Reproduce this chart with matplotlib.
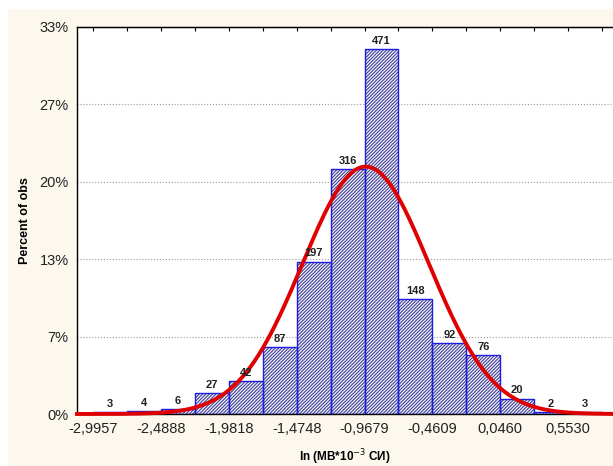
import matplotlib.pyplot as plt
import matplotlib.patches as mpatches
import numpy as np

# histogram data (counts per bin)
counts = [3, 4, 6, 27, 42, 87, 197, 316, 471, 148, 92, 76, 20, 2, 3]
x_start = -2.995732
bin_width = 0.253481
tick_labels = ["-2,9957", "-2,4888", "-1,9818", "-1,4748",
               "-0,9679", "-0,4609", "0,0460", "0,5530"]
y_ticks = [0, 100, 200, 300, 400, 500]
y_tick_labels = ["0%", "7%", "13%", "20%", "27%", "33%"]

plt.rcParams['font.family'] = ['Liberation Sans', 'DejaVu Sans']
plt.rcParams['hatch.linewidth'] = 0.9

counts = np.array(counts)
edges = x_start + bin_width * np.arange(len(counts) + 1)
centers = edges[:-1] + bin_width / 2
n = counts.sum()

fig = plt.figure(figsize=(6.13, 4.66), dpi=100, facecolor='white')
# cream panel behind the chart
fig.patches.append(mpatches.Rectangle((8 / 613, 0), 1, 1 - 9 / 466,
                                      transform=fig.transFigure,
                                      facecolor='#fdf8ee', edgecolor='none',
                                      zorder=-10))
ax = fig.add_axes([77 / 613, 1 - 414 / 466, 1 - 77 / 613, (414 - 27) / 466])
ax.set_facecolor('white')

# hatched bars, then blue outlines on top
ax.bar(centers, counts, width=bin_width, facecolor='white',
       edgecolor='#4a4a9e', hatch='//////////', linewidth=0, zorder=2)
ax.bar(centers, counts, width=bin_width, facecolor='none',
       edgecolor='#1c1ce0', linewidth=1.0, zorder=3)

for c, v in zip(centers, counts):
    ax.text(c, v + 4, str(v), ha='center', va='bottom',
            fontsize=8, fontweight='bold', color='#222222', zorder=5)

# fitted normal curve from the histogram itself
mu = np.sum(centers * counts) / n
sd = np.sqrt(np.sum(counts * (centers - mu) ** 2) / n)
x_lo = edges[0] - 0.47 * bin_width
x_hi = edges[-1] + 0.32 * bin_width
xs = np.linspace(x_lo, x_hi, 400)
ys = n * bin_width * np.exp(-0.5 * ((xs - mu) / sd) ** 2) / (sd * np.sqrt(2 * np.pi))
ax.plot(xs, ys, color='#e00000', linewidth=2.8, zorder=4, clip_on=False)

ax.set_xlim(x_lo, x_hi)
ax.set_ylim(0, 500)

ax.set_xticks(edges[0:15:2])
ax.set_xticklabels(tick_labels, fontsize=10.5)
ax.set_yticks(y_ticks)
ax.set_yticklabels(y_tick_labels, fontsize=10.5)
ax.tick_params(axis='both', length=0, pad=6, colors='#222222')
ax.grid(axis='y', linestyle=':', color='#999999', linewidth=0.8, zorder=0)

# small ticks on top spine at bar edges
top = ax.secondary_xaxis('top')
top.set_xticks(edges)
top.set_xticklabels([])
top.tick_params(direction='in', length=3, width=0.8)

for s in ['left', 'bottom', 'top']:
    ax.spines[s].set_linewidth(1.0)
ax.spines['right'].set_visible(False)

ax.set_ylabel('Percent of obs', fontsize=9, fontweight='bold', labelpad=6)
ax.set_xlabel('ln (MB*10$^{-3}$ СИ)', fontsize=8.5, fontweight='bold', labelpad=8)

fig.savefig('out.png', dpi=100, facecolor=fig.get_facecolor())
